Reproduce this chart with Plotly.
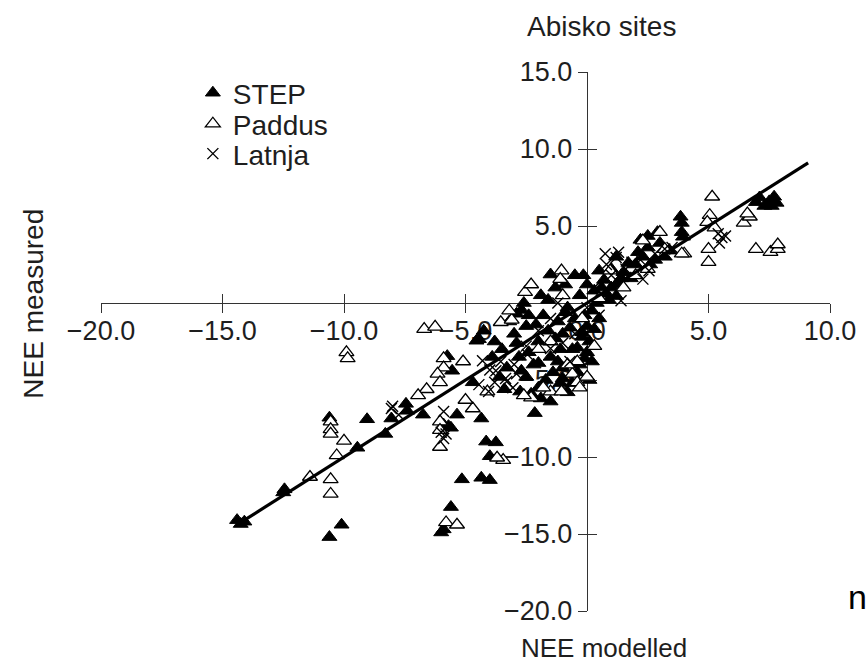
import plotly.graph_objects as go

# ---------------- data ----------------
step_x = [-14.4, -14.1, -14.25, -12.45, -12.5, -10.6, -10.1, -10.6, -9.45, -9.05,
          -8.3, -8.05, -7.45, -7.4, -6.75, -5.6, -6.0, -5.9, -5.15, -4.35,
          -4.0, -4.0, -4.15, -3.75, -4.35, -5.6, -5.9, -5.35, -5.7, -5.75,
          -5.55, -4.45, -4.25, -4.7, -4.55, -2.9, -2.15, -2.75, -2.7, -1.5,
          -0.15, 0.5, 1.2, 3.9, 3.9, 3.85, 3.95, 7.1, 7.3, 6.95,
          7.5, 7.7, 7.6, 7.8, 2.5, 2.9,
          -2.5, -2.0, -1.8, -1.5, -1.2, -1.0, -0.8, -0.6, -0.5, -0.3,
          -0.2, 0.0, 0.2, 0.3, 0.5, -3.0, -2.2, -1.7, -3.5, -2.8,
          -1.0, 0.0, -0.4, -2.6, -1.9, 0.8, 1.2, 1.5, 2.0, 2.3,
          1.8, 2.8, 3.2, 2.5, 3.0, 1.0, 0.7, -1.3, -0.5, 0.0,
          -3.2, -2.4, -1.6, -1.1, -0.9, -0.7, -0.1, 0.1, 0.4, -2.0,
          -1.4, -0.6, -2.4, -3.8, -3.3, -1.6, -0.9, 0.6, 1.0, 1.4,
          1.7, 2.1, 2.6, 3.4, 2.2, 1.2, 0.9, -2.9, -1.3, 0.2,
          -0.3, -0.8, -1.9, -2.5, 0.1, -3.6, -2.1, -0.2, -1.0, 0.3,
          -3.4, -2.7, -1.2, -0.4, -3.9, -2.3, -1.5, -0.1, -2.0, -1.1]
step_y = [-14.1, -14.2, -14.35, -12.1, -12.3, -15.2, -14.4, -7.45, -9.4, -7.55,
          -8.5, -7.5, -6.55, -7.0, -7.25, -13.25, -14.9, -14.7, -11.45, -11.35,
          -11.5, -9.95, -9.0, -9.05, -7.5, -8.1, -7.9, -7.25, -8.0, -3.45,
          -4.4, -2.35, -1.8, -5.15, -2.45, -0.7, -7.15, -5.75, -0.45, 1.85,
          1.8, 2.1, 0.45, 5.2, 4.6, 5.6, 4.3, 6.85, 6.3, 6.55,
          6.6, 6.9, 6.3, 6.5, 4.35, 4.6,
          -1.5, -2.5, -0.8, -3.5, -1.2, -2.0, -0.3, -3.0, -1.0, 0.5,
          -2.2, -1.5, -0.5, 0.8, -1.0, -2.0, -4.0, -5.0, -3.0, -3.5,
          -4.2, -3.2, -4.5, 0.0, 0.5, 0.6, 1.2, 2.0, 2.5, 3.0,
          1.6, 2.8, 3.0, 3.6, 3.9, 2.2, 1.5, 1.0, 1.8, 1.2,
          -1.2, -0.8, -1.8, -3.0, -0.6, -1.6, -0.8, -2.5, 0.0, -5.5,
          -4.5, -5.2, -3.2, -2.5, -4.2, 0.2, 1.2, 1.0, 1.0, 1.6,
          2.6, 3.3, 2.5, 3.4, 4.1, 3.0, 0.2, -2.6, -2.3, -3.8,
          -4.0, -5.8, -6.2, -4.8, -5.0, -4.8, -1.4, -1.9, -4.9, -1.7,
          -5.6, -4.4, -3.8, -2.9, -3.5, -5.9, -6.4, -3.6, -3.9, -5.2]

paddus_x = [-10.55, -10.55, -10.55, -9.9, -9.85, -10.0, -10.3, -11.4, -10.55, -10.55,
            -6.7, -6.25, -5.9, -5.9, -6.15, -6.05, -6.6, -6.95, -5.1, -6.05,
            -6.05, -6.05, -5.8, -5.35, -3.45, -3.7, -4.7, -5.0, -4.1, -2.55,
            -1.05, -1.1, -3.55, -3.1, -2.3, -1.5, -0.6, -0.4, 0.95, 2.3,
            3.0, 4.0, 5.0, 5.0, 5.05, 5.15, 4.95, 5.25, 6.45, 6.7,
            6.6, 6.95, 7.55, 7.85, 7.85, 3.2, 3.9, -1.05, -0.4,
            -2.3, -1.0, -0.2, 0.5, -1.5, -0.8, 0.3, -2.0, 1.5, 2.0,
            2.5, -3.2, 0.0, -0.3, -1.8, -2.6]
paddus_y = [-7.7, -8.2, -8.5, -3.2, -3.6, -8.95, -9.9, -11.3, -11.45, -12.4,
            -1.7, -1.55, -3.6, -4.2, -4.6, -5.15, -5.6, -6.0, -3.8, -7.7,
            -8.25, -9.35, -14.25, -14.4, -10.2, -10.05, -6.85, -6.3, -5.75, 0.7,
            2.1, 1.55, -1.25, -1.1, -6.15, -5.75, -4.6, -3.8, 2.1, 4.05,
            4.6, 3.2, 3.5, 2.65, 5.7, 6.9, 5.25, 4.9, 5.2, 5.6,
            5.8, 3.5, 3.3, 3.5, 3.8, 3.5, 3.2, -5.75, -5.15,
            1.2, 0.5, -1.0, 0.3, -2.5, -4.0, -2.8, -3.0, 1.0, 1.8,
            2.2, -0.5, -4.8, -5.5, -5.5, -6.0]

latnja_x = [-8.05, -7.75, -8.0, -5.9, -5.8, -5.9, -6.0, -4.45, -3.8, -3.35,
            -2.9, -4.0, -3.55, -2.45, -1.5, 0.75, 1.4, 1.2, 1.85, 2.55,
            2.3, 3.2, 5.7, 5.45, 5.55, 5.4, -4.05, -3.3, -3.75, -4.3,
            -3.05,
            -2.0, -1.5, -1.0, -0.5, 0.0, 0.5, -2.5, -1.2, 0.3, 1.0,
            1.6, 2.2, 2.8, 3.5, -0.7, -3.0, 0.8, 1.3]
latnja_y = [-6.85, -7.25, -6.7, -8.8, -8.5, -7.05, -8.4, -5.3, -5.15, -4.9,
            -4.6, -4.35, -3.8, -3.35, -2.95, 3.2, 0.15, 2.95, 2.65, 2.1,
            1.55, 3.5, 4.35, 3.9, 4.25, 4.5, -5.75, -5.1, -4.4, -3.75,
            -5.5,
            -1.8, -1.0, -2.6, -2.0, -0.3, -0.8, -2.8, 0.0, 1.0, 1.8,
            2.2, 2.8, 3.2, 3.6, -3.8, -4.0, 2.5, 3.3]

fit_x = [-14.2, 9.1]
fit_y = [-14.2, 9.1]

x_ticks = [-20, -15, -10, -5, 0, 5, 10]
y_ticks = [-20, -15, -10, -5, 5, 10, 15]
x_range = [-20, 10]
y_range = [-20, 15]

# ---------------- figure ----------------
FONT = "Liberation Sans, Arial, Helvetica, sans-serif"
INK = "#1e1e1e"
AX = "#333333"

fig = go.Figure()

fig.add_trace(go.Scatter(
    x=step_x, y=step_y, mode="markers", name="STEP", legend="legend",
    marker=dict(symbol="triangle-up", size=13, color="black",
                line=dict(color="black", width=1))))
fig.add_trace(go.Scatter(
    x=paddus_x, y=paddus_y, mode="markers", name="Paddus", legend="legend2",
    marker=dict(symbol="triangle-up", size=13, color="white",
                line=dict(color="black", width=1.3))))
fig.add_trace(go.Scatter(
    x=latnja_x, y=latnja_y, mode="markers", name="Latnja", legend="legend3",
    marker=dict(symbol="x-thin", size=11, color="black",
                line=dict(color="black", width=1.4))))
fig.add_trace(go.Scatter(
    x=fit_x, y=fit_y, mode="lines", showlegend=False,
    line=dict(color="black", width=3.2)))
# helper trace for the inner half of the crossing tick marks
fig.add_trace(go.Scatter(x=[None], y=[None], xaxis="x2", yaxis="y2",
                         showlegend=False, hoverinfo="skip"))

xpos = (0 - y_range[0]) / (y_range[1] - y_range[0])
ypos = (0 - x_range[0]) / (x_range[1] - x_range[0])

common = dict(showgrid=False, zeroline=False, anchor="free",
              tickwidth=1.4, ticklen=9, tickcolor=AX,
              layer="below traces")

leg = dict(x=0.126, xanchor="left", yanchor="middle",
           bgcolor="rgba(0,0,0,0)", borderwidth=0,
           font=dict(family=FONT, size=28, color=INK), itemwidth=30)

fig.update_layout(
    width=868, height=664, autosize=False,
    margin=dict(l=101, r=31, t=72, b=53),
    paper_bgcolor="white", plot_bgcolor="white",
    font=dict(family=FONT, size=27, color=INK),
    xaxis=dict(range=x_range, tickvals=x_ticks, tickformat=".1f",
               position=xpos, ticks="outside", showline=True,
               linecolor=AX, linewidth=1.4, ticklabelstandoff=-6,
               tickfont=dict(family=FONT, size=27, color=INK), **common),
    yaxis=dict(range=y_range, tickvals=y_ticks, tickformat=".1f",
               position=ypos, ticks="outside", showline=True,
               linecolor=AX, linewidth=1.4,
               tickfont=dict(family=FONT, size=27, color=INK), **common),
    xaxis2=dict(range=x_range, tickvals=x_ticks, overlaying="x",
                position=xpos, ticks="inside", showline=False,
                showticklabels=False, **common),
    yaxis2=dict(range=y_range, tickvals=y_ticks, overlaying="y",
                position=ypos, ticks="inside", showline=False,
                showticklabels=False, **common),
    legend=dict(y=0.961, **leg),
    legend2=dict(y=0.9035, **leg),
    legend3=dict(y=0.848, **leg),
    showlegend=True,
)

ann = dict(xref="paper", yref="paper", showarrow=False,
           xanchor="center", yanchor="middle")
fig.add_annotation(text="Abisko sites", x=0.687, y=1.0835,
                   font=dict(family=FONT, size=28, color=INK), **ann)
fig.add_annotation(text="NEE modelled", x=0.69, y=-0.0686,
                   font=dict(family=FONT, size=26, color=INK), **ann)
fig.add_annotation(text="NEE measured", x=-0.0924, y=0.5696, textangle=-90,
                   font=dict(family=FONT, size=28, color=INK), **ann)
fig.add_annotation(text="n", x=1.038, y=0.026,
                   font=dict(family=FONT, size=34, color="black"), **ann)

fig.write_html("out.html", config={"displayModeBar": False},
               post_script="document.body.style.margin='0px';")
